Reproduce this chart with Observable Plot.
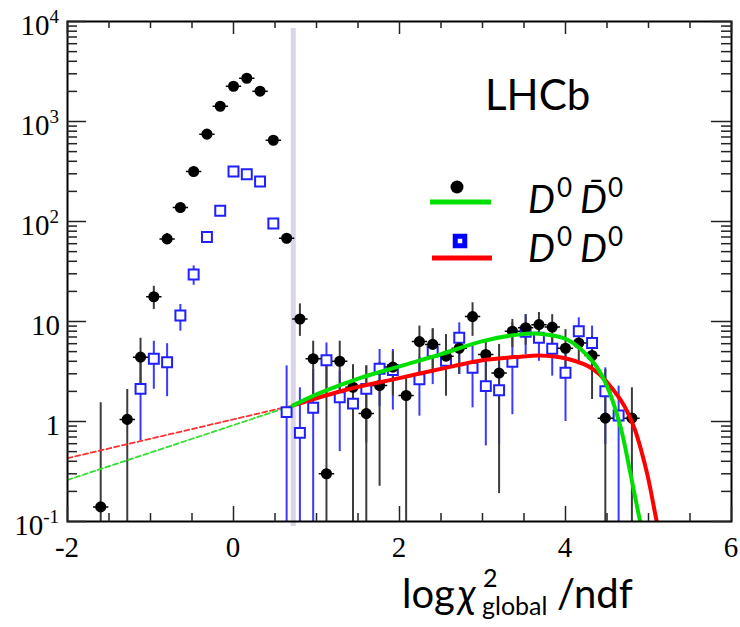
<!DOCTYPE html>
<html><head><meta charset="utf-8">
<script src="https://cdn.jsdelivr.net/npm/d3@7"></script>
<script src="https://cdn.jsdelivr.net/npm/@observablehq/plot@0.6"></script>
<style>body{margin:0;background:#fff;} svg{display:block;}</style>
</head><body><div id="chart"></div>
<script>
// ---- data: D0 Dbar0 (black) ----
const blackX  = [-1.6,-1.28,-1.12,-0.96,-0.8,-0.64,-0.48,-0.32,-0.16,0,0.16,0.32,0.48,0.64,0.8,0.96,1.12,1.28,1.44,1.6,1.76,1.92,2.08,2.24,2.4,2.56,2.72,2.88,3.04,3.2,3.36,3.52,3.68,3.84,4.0,4.16,4.32,4.48,4.8];
const blackY  = [0.14,1.05,4.4,17.7,67,138,316,747,1420,2250,2710,2010,650,68,10.6,4.24,0.30,4.0,2.2,1.2,2.29,3.5,1.82,6.3,5.9,4.5,5.4,11.2,4.68,3.05,8.0,8.65,9.3,8.8,5.4,6.1,4.57,1.08,1.08];
const blackLo = [0.1,0.1,2.3,13.2,59,127,298,720,1380,2200,2660,1965,625,60,7.1,1.6,0.1,1.8,0.1,0.1,0.225,1.8,0.1,2.5,3.0,1.8,2.95,7.1,2.5,0.19,5.5,5.8,6.4,6.0,2.7,3.7,1.66,0.1,0.1];
const blackHi = [1.54,2.09,6.8,22.5,76,150,334,775,1460,2300,2760,2055,675,76,15,6.35,3.6,6.35,3.7,3.6,3.9,5.0,2.8,9.0,8.5,7.4,6.6,15.4,6.6,5.9,10.5,11.7,12.3,11.7,8.3,8.0,7.1,3.3,2.17];
// ---- data: D0 D0 (blue) ----
const blueX  = [-1.12,-0.96,-0.8,-0.64,-0.48,-0.32,-0.16,0,0.16,0.32,0.48,0.64,0.8,0.96,1.12,1.28,1.44,1.6,1.76,1.92,2.24,2.4,2.56,2.72,2.88,3.04,3.2,3.36,3.52,3.68,3.84,4.0,4.16,4.32,4.48,4.64];
const blueY  = [2.12,4.24,3.92,11.5,29.5,70,128,316,297,251,95.5,1.24,0.77,1.37,4.1,1.75,1.51,2.12,3.37,3.27,2.65,5.0,4.05,6.87,3.45,2.26,2.05,3.95,7.9,6.87,5.33,3.07,8.0,6.1,2.01,1.15];
const blueLo = [0.64,2.1,1.77,8.0,23,62,117,298,280,235,86,0.1,0.1,0.1,1.8,0.5,0.1,0.61,1.42,1.3,1.13,2.34,1.8,2.95,1.37,0.57,0.59,1.17,4.68,4.0,2.84,1.0,5.9,3.9,0.59,0.1];
const blueHi = [4.4,6.35,6.0,14.8,36,79,139,334,314,267,105,3.6,2.17,3.3,6.1,3.2,3.6,3.6,5.25,5.25,4.4,8.3,6.8,9.7,5.9,4.35,4.0,9.7,11.7,10.0,7.1,5.66,10.9,9.0,3.44,2.26];
// ---- fit curves ----
const fitStart = 0.72;
const greenSolidX = [0.72,1.05,1.53,2.01,2.49,2.98,3.4,3.68,4.02,4.34,4.5,4.66,4.78,4.9,4.95];
const greenSolidY = [1.45,1.94,2.73,3.58,4.68,6.3,7.35,7.55,6.6,3.86,2.26,0.9,0.31,0.1,0.07];
const redSolidX   = [0.72,1.37,2.01,2.65,3.0,3.46,3.68,4.02,4.34,4.66,4.82,4.98,5.10,5.14];
const redSolidY   = [1.45,2.09,2.73,3.58,4.1,4.45,4.57,4.24,3.31,1.66,0.9,0.31,0.1,0.075];
const greenDashX = [-2,0.72], greenDashY = [0.26,1.45];
const redDashX   = [-2,0.72], redDashY   = [0.43,1.45];
// ---- ticks ----
const xMajorTicks = [-2,0,2,4,6];
const xTickLabels = ["-2","0","2","4","6"];
const xMinorTicks = [-1.5,-1,-0.5,0.5,1,1.5,2.5,3,3.5,4.5,5,5.5];
const yMajorTicks = [0.1,1,10,100,1000,10000];
const yTickBase = ["10","1","10","10","10","10"];
const yTickExp  = ["-1","","","2","3","4"];
const yMinorTicks = [0.1,1,10,100,1000].flatMap(p => [2,3,4,5,6,7,8,9].map(m => m*p));

const zip = (X,Y,L,H) => X.map((x,i)=>({x, y:Y[i], lo:L?L[i]:null, hi:H?H[i]:null}));
const black = zip(blackX, blackY, blackLo, blackHi);
const blue = zip(blueX, blueY, blueLo, blueHi);
const gS = zip(greenSolidX, greenSolidY), rS = zip(redSolidX, redSolidY);
const gD = zip(greenDashX, greenDashY), rD = zip(redDashX, redDashY);

const W = 740, H = 627, mL = 67, mR = 9, mT = 21, mB = 106;
const fw = W - mL - mR, fh = H - mT - mB;

const dotBar = { draw(ctx, size) { const r = Math.sqrt(size/Math.PI);
  ctx.moveTo(r,0); ctx.arc(0,0,r,0,2*Math.PI); ctx.moveTo(-1.6*r,0); ctx.lineTo(1.6*r,0); } };

const chart = Plot.plot({
  width: W, height: H, marginLeft: mL, marginRight: mR, marginTop: mT, marginBottom: mB,
  x: {domain: [-2,6], axis: null},
  y: {type: "log", domain: [0.1,10000], axis: null},
  marks: [
    Plot.ruleX([fitStart], {x: d=>d, y1: 0.089, y2: 8500, stroke: "#dcd4e8", strokeWidth: 5}),
    Plot.ruleX(blue, {x: "x", y1: "lo", y2: "hi", stroke: "#3a3aff", strokeWidth: 2, clip: true}),
    Plot.ruleX(black, {x: "x", y1: "lo", y2: "hi", stroke: "#3c3c3c", strokeWidth: 2, clip: true}),
    Plot.line(rD, {x: "x", y: "y", stroke: "#ff3030", strokeWidth: 1.8, strokeDasharray: "5,3", clip: true}),
    Plot.line(gD, {x: "x", y: "y", stroke: "#30e030", strokeWidth: 1.8, strokeDasharray: "5,3", clip: true}),
    Plot.dot(blue, {x: "x", y: "y", symbol: "square", r: 5.6, stroke: "#1f1fff", strokeWidth: 2, fill: "white"}),
    Plot.dot(black, {x: "x", y: "y", symbol: dotBar, r: 4.8, fill: "black", stroke: "black", strokeWidth: 1.5}),
    Plot.line(rS, {x: "x", y: "y", stroke: "#ff0000", strokeWidth: 4, curve: "catmull-rom", clip: true}),
    Plot.line(gS, {x: "x", y: "y", stroke: "#00e000", strokeWidth: 4, curve: "catmull-rom", clip: true}),
    Plot.frame({stroke: "black", strokeWidth: 2}),
    Plot.tickX(xMajorTicks, {x: d=>d, insetTop: fh-15, stroke: "#222", strokeWidth: 1.5}),
    Plot.tickX(xMinorTicks, {x: d=>d, insetTop: fh-8, stroke: "#222", strokeWidth: 1.5}),
    Plot.tickX(xMajorTicks, {x: d=>d, insetBottom: fh-13, stroke: "#222", strokeWidth: 1.5}),
    Plot.tickX(xMinorTicks, {x: d=>d, insetBottom: fh-7, stroke: "#222", strokeWidth: 1.5}),
    Plot.tickY(yMajorTicks, {y: d=>d, insetRight: fw-19, stroke: "#222", strokeWidth: 1.5}),
    Plot.tickY(yMinorTicks, {y: d=>d, insetRight: fw-10, stroke: "#222", strokeWidth: 1.5}),
    Plot.tickY(yMajorTicks, {y: d=>d, insetLeft: fw-20, stroke: "#222", strokeWidth: 1.5}),
    Plot.tickY(yMinorTicks, {y: d=>d, insetLeft: fw-10, stroke: "#222", strokeWidth: 1.5})
  ]
});
document.getElementById("chart").appendChild(chart);

// ---- text annotations ----
const svg = d3.select(chart);
const sx = chart.scale("x"), sy = chart.scale("y");
const X = v => sx.apply(v), Y = v => sy.apply(v);
const g = svg.append("g").attr("fill", "black").attr("text-anchor", "start");

yMajorTicks.forEach((v,i) => {
  const t = g.append("text").attr("font-family","Liberation Serif").attr("font-size",29)
    .attr("text-anchor","end").attr("x", X(-2) - (yTickExp[i] ? 8 : 7)).attr("y", Y(v) + 14);
  t.append("tspan").text(yTickBase[i]);
  if (yTickExp[i]) t.append("tspan").attr("font-size",19).attr("dy",-12).text(yTickExp[i]);
});
xMajorTicks.forEach((v,i) => {
  g.append("text").attr("font-family","Liberation Serif").attr("font-size",29)
    .attr("text-anchor","middle").attr("x", X(v)).attr("y", Y(0.1) + 36).text(xTickLabels[i]);
});
// axis title
const bx = X(-2), by = Y(0.1);
const tt = g.append("g").attr("font-family","Lato").attr("text-anchor","start");
tt.append("text").attr("font-size",40).attr("x", bx+335).attr("y", by+87).text("log");
tt.append("text").attr("font-size",40).attr("font-style","italic").attr("x", bx+391).attr("y", by+87).text("χ");
tt.append("text").attr("font-size",25).attr("x", bx+416).attr("y", by+66).text("2");
tt.append("text").attr("font-size",25).attr("x", bx+415).attr("y", by+94).text("global");
tt.append("text").attr("font-size",40).attr("x", bx+490).attr("y", by+87).text("/ndf");

// LHCb label and legend
const fx = X(-2), fy = Y(10000);
g.append("text").attr("font-family","Lato").attr("font-size",42).attr("x", fx+418).attr("y", fy+89).text("LHCb");
const leg = svg.append("g");
leg.append("circle").attr("cx", fx+390).attr("cy", fy+166).attr("r", 6.5).attr("fill","black");
leg.append("line").attr("x1", fx+363).attr("x2", fx+424).attr("y1", fy+181).attr("y2", fy+181).attr("stroke","#00e000").attr("stroke-width",5);
leg.append("rect").attr("x", fx+393-4.75).attr("y", fy+220-4.75).attr("width",9.5).attr("height",9.5).attr("fill","white").attr("stroke","#0000ff").attr("stroke-width",5);
leg.append("line").attr("x1", fx+365).attr("x2", fx+425).attr("y1", fy+237).attr("y2", fy+237).attr("stroke","#ff0000").attr("stroke-width",5);
const rows = [["D","0","D\u0304","0", 192], ["D","0","D","0", 241]];
rows.forEach(r => {
  const base = fy + r[4];
  const t = g.append("g").attr("font-family","Lato").attr("text-anchor","start");
  t.append("text").attr("font-size",38).attr("font-style","italic").attr("x", fx+461).attr("y", base).text(r[0]);
  t.append("text").attr("font-size",26).attr("x", fx+490).attr("y", base-16).text(r[1]);
  t.append("text").attr("font-size",38).attr("font-style","italic").attr("x", fx+513).attr("y", base).text(r[2]);
  t.append("text").attr("font-size",26).attr("x", fx+541).attr("y", base-16).text(r[3]);
});
</script>
</body></html>
